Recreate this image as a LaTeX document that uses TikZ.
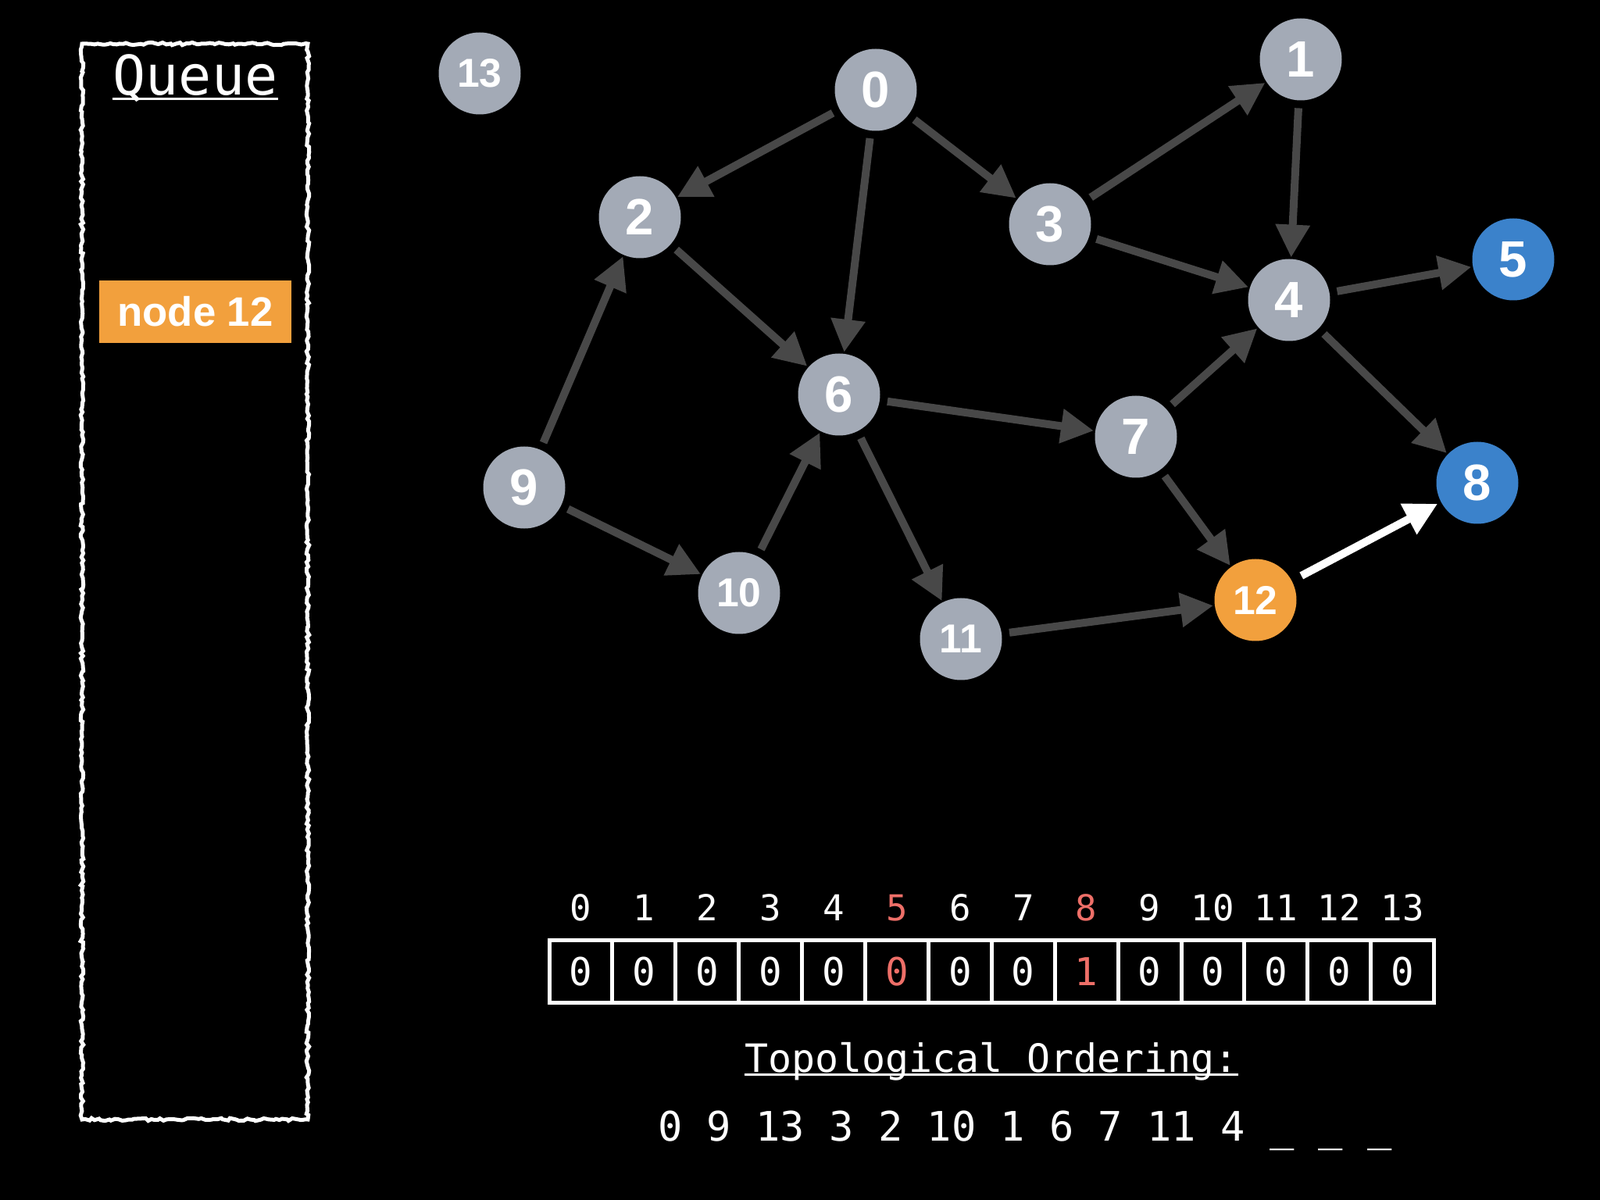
\documentclass[tikz,border=0pt]{standalone}
\usepackage{fontspec}
\setmainfont{Liberation Sans}
\setmonofont{DejaVu Sans Mono}
\usetikzlibrary{arrows.meta, positioning, decorations.pathmorphing}
\definecolor{nodegray}{HTML}{A3AAB6}
\definecolor{edgegray}{HTML}{484848}
\definecolor{qorange}{HTML}{F2A03D}
\definecolor{doneblue}{HTML}{3B82CB}
\definecolor{hired}{HTML}{EE6F68}

\begin{document}
\begin{tikzpicture}[
  vert/.style={circle, fill=nodegray, text=white, minimum size=1.05cm, inner sep=0pt,
               outer sep=0pt, font=\bfseries\fontsize{18.6}{20}\selectfont},
  vsmall/.style={vert, font=\bfseries\fontsize{14.7}{16}\selectfont},
  arr/.style={-{Triangle[length=0.42cm, width=0.42cm]}, line width=0.1cm, draw=edgegray,
              shorten <=0.1cm, shorten >=0.02cm},
  cell/.style={rectangle, draw=white, line width=0.05cm, minimum width=0.809cm,
               minimum height=0.80cm, inner sep=0pt, text=white,
               font=\ttfamily\fontsize{14}{16}\selectfont},
  idx/.style={text=white, inner sep=0pt, anchor=base, font=\ttfamily\fontsize{13}{15}\selectfont},
  mono/.style={text=white, inner sep=0pt, anchor=base, font=\ttfamily\fontsize{14.2}{16}\selectfont}]
  \fill[black] (0,0) rectangle (20.48,-15.36);
  % queue
  \draw[white, line width=0.05cm, decorate,
        decoration={random steps, segment length=1.2pt, amplitude=0.5pt}]
        (1.05,-0.56) rectangle (3.94,-14.33);
  \node[mono, font=\ttfamily\fontsize{19.9}{22}\selectfont] (qtitle) at (2.50,-1.22) {Queue};
  \draw[white, line width=0.03cm] ([yshift=-0.05cm]qtitle.base west) -- ([yshift=-0.05cm]qtitle.base east);
  \node[fill=qorange, text=white, minimum width=2.46cm, minimum height=0.80cm,
        font=\bfseries\fontsize{15}{17}\selectfont] (q12) at (2.50,-3.99) {node 12};
  % graph
  \node[vsmall] (n13) at (6.14,-0.94) {13};
  \node[vert] (n0) at (11.21,-1.15) {0};
  \node[vert] (n1) at (16.65,-0.76) {1};
  \node[vert] (n2) at (8.19,-2.78) {2};
  \node[vert] (n3) at (13.44,-2.87) {3};
  \node[vert] (n4) at (16.50,-3.84) {4};
  \node[vert, fill=doneblue] (n5) at (19.37,-3.32) {5};
  \node[vert] (n6) at (10.74,-5.05) {6};
  \node[vert] (n7) at (14.54,-5.59) {7};
  \node[vert, fill=doneblue] (n8) at (18.91,-6.18) {8};
  \node[vert] (n9) at (6.71,-6.24) {9};
  \node[vsmall] (n10) at (9.46,-7.59) {10};
  \node[vsmall] (n11) at (12.30,-8.18) {11};
  \node[vsmall, fill=qorange] (n12) at (16.07,-7.68) {12};
  \draw[arr] (n0) -- (n2);
  \draw[arr] (n0) -- (n3);
  \draw[arr] (n0) -- (n6);
  \draw[arr] (n2) -- (n6);
  \draw[arr] (n9) -- (n2);
  \draw[arr] (n9) -- (n10);
  \draw[arr] (n10) -- (n6);
  \draw[arr] (n6) -- (n7);
  \draw[arr] (n6) -- (n11);
  \draw[arr] (n3) -- (n1);
  \draw[arr] (n3) -- (n4);
  \draw[arr] (n1) -- (n4);
  \draw[arr] (n4) -- (n5);
  \draw[arr] (n4) -- (n8);
  \draw[arr] (n7) -- (n4);
  \draw[arr] (n7) -- (n12);
  \draw[arr] (n11) -- (n12);
  \draw[arr, draw=white, shorten <=0.14cm, shorten >=0.05cm] (n12) -- (n8);
  % in-degree array
  \foreach \i/\v/\c in {0/0/white,1/0/white,2/0/white,3/0/white,4/0/white,5/0/hired,6/0/white,
                        7/0/white,8/1/hired,9/0/white,10/0/white,11/0/white,12/0/white,13/0/white}{
    \node[cell, text=\c] (c\i) at ({7.03+0.809*(\i+0.5)},-12.435) {\v};
    \node[idx, text=\c] (i\i) at ({7.03+0.809*(\i+0.5)},-11.78) {\i};
  }
  \node[mono] (topo) at (12.69,-13.72) {Topological Ordering:};
  \draw[white, line width=0.03cm] ([yshift=-0.03cm]topo.base west) -- ([yshift=-0.03cm]topo.base east);
  \node[mono, font=\ttfamily\fontsize{14.8}{16}\selectfont] (order) at (13.12,-14.60)
    {0 9 13 3 2 10 1 6 7 11 4 \_ \_ \_};
\end{tikzpicture}
\end{document}
